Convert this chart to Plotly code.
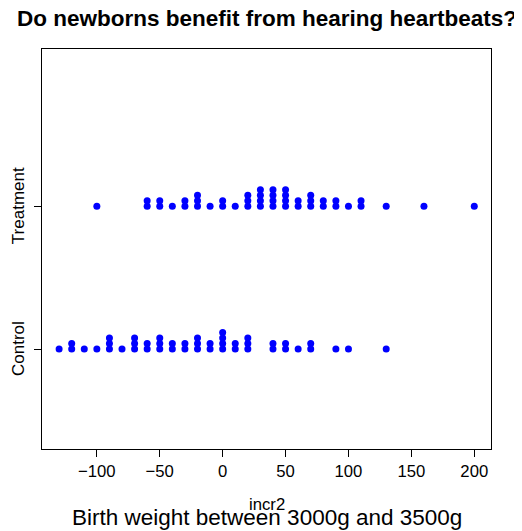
import plotly.graph_objects as go
from collections import Counter

# Weight increase (incr2) values, one entry per newborn
treatment = [-100, -60, -60, -50, -50, -40, -30, -30, -20, -20, -20, -10,
             0, 0, 10, 20, 20, 20, 30, 30, 30, 30, 40, 40, 40, 40,
             50, 50, 50, 50, 60, 60, 70, 70, 70, 80, 80, 90, 90, 100,
             110, 110, 130, 160, 200]
control = [-130, -120, -120, -110, -100, -90, -90, -90, -80, -70, -70, -70,
           -60, -60, -50, -50, -50, -40, -40, -30, -30, -20, -20, -20,
           -10, -10, 0, 0, 0, 0, 10, 10, 20, 20, 20, 40, 40, 50, 50,
           60, 70, 70, 90, 100, 130]
groups = ["Control", "Treatment"]
x_ticks = [-100, -50, 0, 50, 100, 150, 200]
x_tick_text = ["\u2212100", "\u221250", "0", "50", "100", "150", "200"]

STACK = 0.0385  # vertical step between stacked points (axis units)


def stacked(values, level):
    seen = Counter()
    xs, ys = [], []
    for v in values:
        xs.append(v)
        ys.append(level + seen[v] * STACK)
        seen[v] += 1
    return xs, ys


fig = go.Figure()
for lvl, vals in ((1, control), (2, treatment)):
    xs, ys = stacked(vals, lvl)
    fig.add_trace(go.Scatter(x=xs, y=ys, mode="markers",
                             marker=dict(color="#0000ff", size=7, line=dict(width=0)),
                             showlegend=False, hoverinfo="x"))

# plot box on screen: x 42..491, y 49..449 (page has an 8px body margin)
def py(screen_y):
    return (449 - screen_y) / 400


def px(screen_x):
    return (screen_x - 42) / 449


FONT = "Liberation Sans, Arial, Helvetica, sans-serif"
ann = [
    dict(text="<b>Do newborns benefit from hearing heartbeats?</b>", x=0.5, y=py(18),
         font=dict(size=22.5)),
    dict(text="incr2", x=0.5, y=py(504), font=dict(size=16.7)),
    dict(text="Birth weight between 3000g and 3500g", x=0.5, y=py(517),
         font=dict(size=22.5)),
]
for lvl, name in zip([1, 2], groups):
    ann.append(dict(text=name, x=px(18), y=(lvl - 0.30) / 2.80, textangle=-90,
                    font=dict(size=17)))
for a in ann:
    a.update(xref="paper", yref="paper", xanchor="center", yanchor="middle",
             showarrow=False)

fig.update_layout(
    width=514, height=523,
    margin=dict(l=34, r=31, t=41, b=82),
    paper_bgcolor="white", plot_bgcolor="white",
    font=dict(family=FONT, color="black", size=16.7),
    xaxis=dict(range=[-143.6, 213.3], tickmode="array", tickvals=x_ticks,
               ticktext=x_tick_text, ticks="outside", ticklen=7, tickcolor="black",
               showgrid=False, zeroline=False, showline=True, linecolor="black",
               linewidth=1, mirror=True, tickfont=dict(size=16.7)),
    yaxis=dict(range=[0.30, 3.10], tickmode="array", tickvals=[1, 2],
               ticktext=["", ""], ticks="outside", ticklen=7,
               tickcolor="black", showgrid=False, zeroline=False, showline=True,
               linecolor="black", linewidth=1, mirror=True),
    annotations=ann,
)
fig.write_html("out.html")
